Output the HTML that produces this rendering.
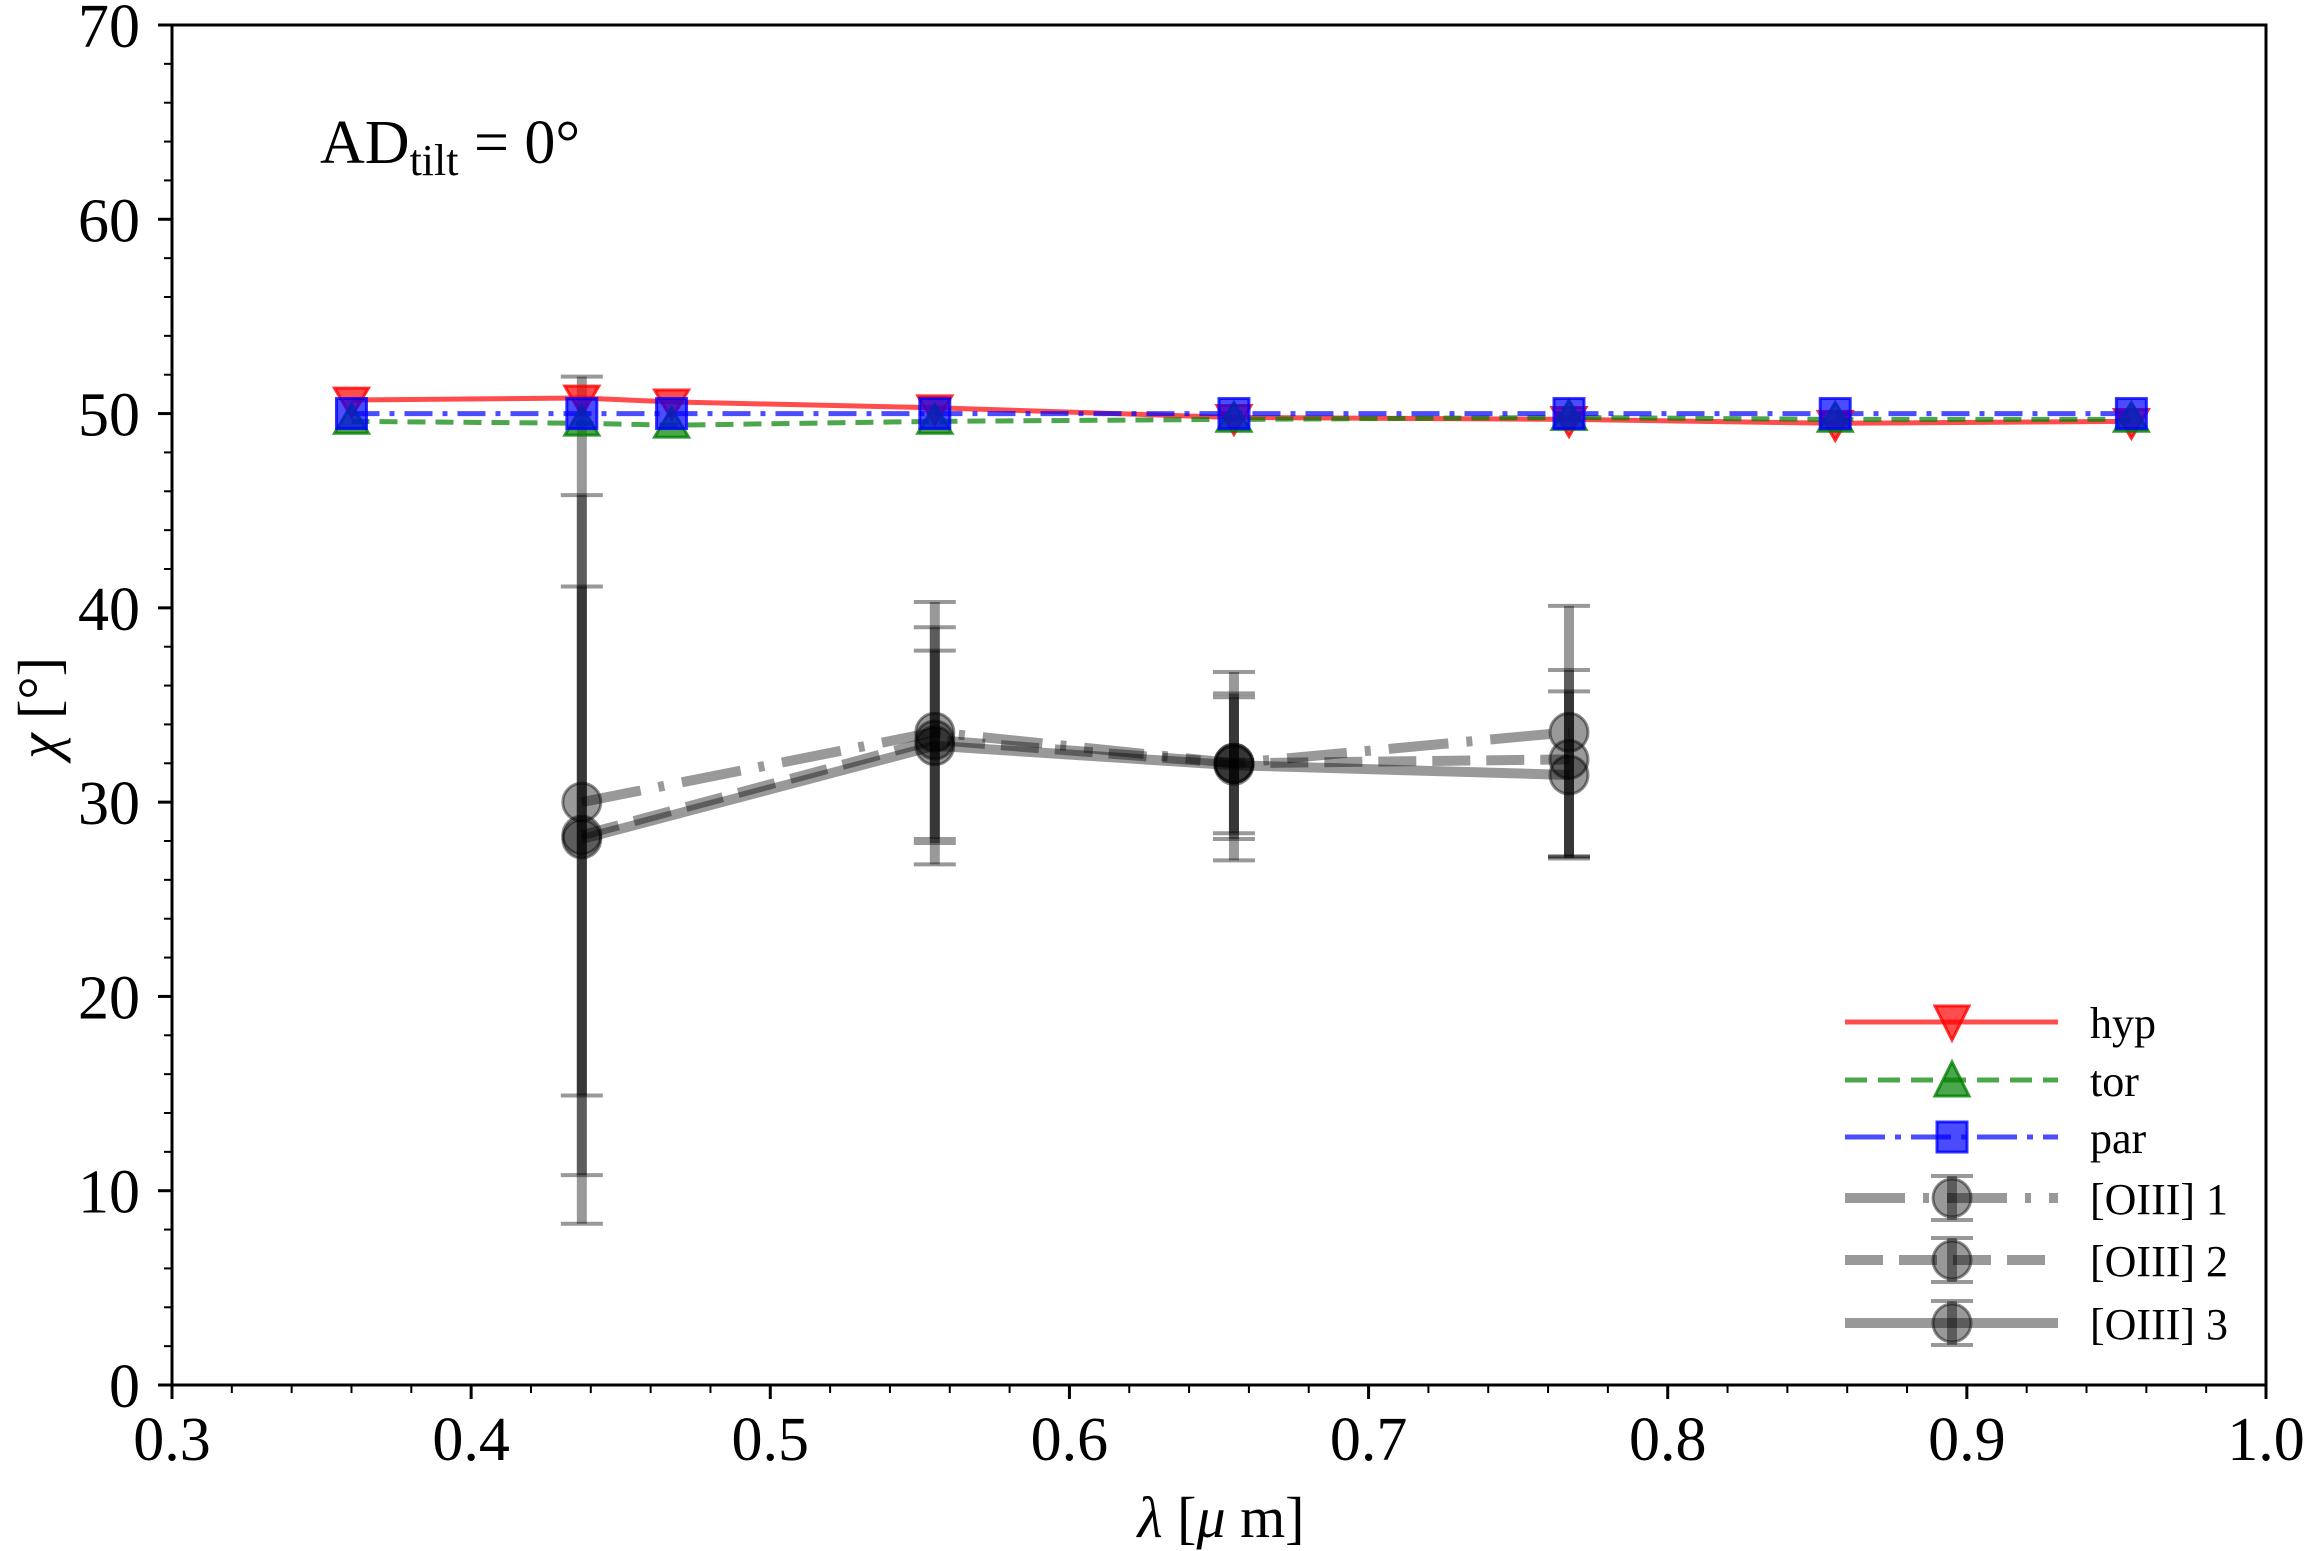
<!DOCTYPE html>
<html><head><meta charset="utf-8"><style>
html,body{margin:0;padding:0;background:#fff}
svg{display:block;font-family:"Liberation Serif","DejaVu Serif",serif}
</style></head><body>
<svg id="chart" width="2309" height="1551" viewBox="0 0 2309 1551" xmlns="http://www.w3.org/2000/svg">
<rect x="0" y="0" width="2309" height="1551" fill="#fff"/>
<g id="marks"></g>
<g id="axes"></g>
<text x="320" y="163" font-size="62">AD<tspan font-size="44" dy="12">tilt</tspan><tspan dy="-12"> = 0°</tspan></text>
<text x="1221" y="1537" font-size="58" text-anchor="middle"><tspan font-style="italic">λ</tspan> [<tspan font-style="italic">μ</tspan> m]</text>
<text transform="translate(58,708) rotate(-90)" font-size="58" text-anchor="middle"><tspan font-style="italic">χ</tspan> [°]</text>
<g id="legend"></g>
</svg>
<script>
const modelX = [0.36,0.437,0.467,0.555,0.655,0.767,0.856,0.955];
const hypY = [50.7,50.8,50.6,50.3,49.8,49.7,49.5,49.6];
const torY = [49.6,49.5,49.4,49.6,49.7,49.8,49.7,49.7];
const parY = [50.0,50.0,50.0,50.0,50.0,50.0,50.0,50.0];
const oiiiX = [0.437,0.555,0.655,0.767];
const oiii1Y = [30.0,33.6,32.0,33.6];
const oiii1Lo = [8.3,26.8,27.0,27.2];
const oiii1Hi = [51.9,40.3,36.7,40.1];
const oiii2Y = [28.3,33.2,32.0,32.2];
const oiii2Lo = [10.8,28.1,28.1,27.2];
const oiii2Hi = [45.8,37.8,35.4,36.8];
const oiii3Y = [28.1,32.9,31.9,31.4];
const oiii3Lo = [14.9,27.9,28.4,27.1];
const oiii3Hi = [41.1,39.0,35.6,35.7];
const xTicks = [0.3,0.4,0.5,0.6,0.7,0.8,0.9,1.0];
const xTickLabels = ["0.3","0.4","0.5","0.6","0.7","0.8","0.9","1.0"];
const yTicks = [0,10,20,30,40,50,60,70];
const yTickLabels = ["0","10","20","30","40","50","60","70"];

const L=172,R=2266,T=25,B=1385;
const sx=v=>L+(v-0.3)/0.7*(R-L);
const sy=v=>B-v/70*(B-T);
const NS="http://www.w3.org/2000/svg";
function mk(tag,attrs,parent){const e=document.createElementNS(NS,tag);for(const k in attrs)e.setAttribute(k,attrs[k]);parent.appendChild(e);return e;}
const marks=document.getElementById('marks'),axes=document.getElementById('axes'),leg=document.getElementById('legend');

function polyline(xs,ys,stroke,w,dash,name,parent){
  const p=xs.map((x,i)=>sx(x)+','+sy(ys[i])).join(' ');
  const e=mk('polyline',{points:p,fill:'none',stroke:stroke,'stroke-width':w,'stroke-dasharray':dash||'none'},parent);
  
  
}
const gray='rgba(0,0,0,0.4)';
function oiii(ys,lo,hi,dash,idx){
  polyline(oiiiX,ys,gray,10,dash,'oiii-'+idx+'-line',marks);
  oiiiX.forEach((x,i)=>{
    const cx=sx(x);
    const e=mk('line',{x1:cx,x2:cx,y1:sy(lo[i]),y2:sy(hi[i]),stroke:gray,'stroke-width':10},marks);
    
    
    [lo[i],hi[i]].forEach(v=>{
      const c=mk('line',{x1:cx-21,x2:cx+21,y1:sy(v),y2:sy(v),stroke:gray,'stroke-width':4},marks);
      
      
    });
    const m=mk('circle',{cx:cx,cy:sy(ys[i]),r:19,fill:'rgba(0,0,0,0.4)',stroke:'rgba(0,0,0,0.45)','stroke-width':3},marks);
    
    
  });
}
oiii(oiii1Y,oiii1Lo,oiii1Hi,'60,18,6,18',1);
oiii(oiii2Y,oiii2Lo,oiii2Hi,'38,16',2);
oiii(oiii3Y,oiii3Lo,oiii3Hi,'',3);

function tri(cx,cy,down,fill,stroke){
  const s=17;
  const pts=down?`${cx-s},${cy-s*0.7} ${cx+s},${cy-s*0.7} ${cx},${cy+s*1.0}`:`${cx-s},${cy+s*0.7} ${cx+s},${cy+s*0.7} ${cx},${cy-s*1.0}`;
  return mk('polygon',{points:pts,fill:fill,stroke:stroke,'stroke-width':3},marks);
}
polyline(modelX,hypY,'rgba(255,0,0,0.7)',5,'','hyp-line',marks);
polyline(modelX,torY,'rgba(0,128,0,0.7)',5,'18,10','tor-line',marks);
polyline(modelX,parY,'rgba(0,0,255,0.7)',5,'28,10,5,10','par-line',marks);
modelX.forEach((x,i)=>{
  const a=tri(sx(x),sy(hypY[i]),true,'rgba(255,0,0,0.7)','rgba(255,0,0,0.8)');
  
  
  const b=tri(sx(x),sy(torY[i]),false,'rgba(0,128,0,0.7)','rgba(0,128,0,0.8)');
  
  
  const c=mk('rect',{x:sx(x)-15,y:sy(parY[i])-15,width:30,height:30,fill:'rgba(0,0,255,0.7)',stroke:'rgba(0,0,255,0.8)','stroke-width':3},marks);
  
  
});

const fr=mk('rect',{x:L,y:T,width:R-L,height:B-T,fill:'none',stroke:'#000','stroke-width':3},axes);


xTicks.forEach((v,i)=>{
  const t=mk('line',{x1:sx(v),x2:sx(v),y1:B,y2:B+14,stroke:'#000','stroke-width':3},axes);
  
  
  const l=mk('text',{x:sx(v),y:B+75,'font-size':62,'text-anchor':'middle'},axes);
  l.textContent=xTickLabels[i];
  
  
  if(i<xTicks.length-1)for(let k=1;k<5;k++){
    const m=mk('line',{x1:sx(v+k*0.02),x2:sx(v+k*0.02),y1:B,y2:B+8,stroke:'#000','stroke-width':2},axes);
    
    
  }
});
yTicks.forEach((v,i)=>{
  const t=mk('line',{x1:L-14,x2:L,y1:sy(v),y2:sy(v),stroke:'#000','stroke-width':3},axes);
  
  
  const l=mk('text',{x:140,y:sy(v)+22,'font-size':62,'text-anchor':'end'},axes);
  l.textContent=yTickLabels[i];
  
  
  if(i<yTicks.length-1)for(let k=1;k<5;k++){
    const m=mk('line',{x1:L-8,x2:L,y1:sy(v+k*2),y2:sy(v+k*2),stroke:'#000','stroke-width':2},axes);
    
    
  }
});

const lx1=1845,lx2=2058,mx=1952,tx=2090;
const legRows=[
 {y:1022,name:'hyp',stroke:'rgba(255,0,0,0.7)',w:5,dash:''},
 {y:1080,name:'tor',stroke:'rgba(0,128,0,0.7)',w:5,dash:'22,11'},
 {y:1137,name:'par',stroke:'rgba(0,0,255,0.7)',w:5,dash:'40,10,6,10'},
 {y:1198,name:'[OIII] 1',stroke:gray,w:10,dash:'60,18,6,18'},
 {y:1260,name:'[OIII] 2',stroke:gray,w:10,dash:'38,16'},
 {y:1323,name:'[OIII] 3',stroke:gray,w:10,dash:''}
];
legRows.forEach((r,i)=>{
  const ln=mk('line',{x1:lx1,x2:lx2,y1:r.y,y2:r.y,stroke:r.stroke,'stroke-width':r.w,'stroke-dasharray':r.dash||'none'},leg);
  
  
  let m;
  if(i==0){m=mk('polygon',{points:`${mx-17},${r.y-16} ${mx+17},${r.y-16} ${mx},${r.y+18}`,fill:'rgba(255,0,0,0.7)',stroke:'rgba(255,0,0,0.8)','stroke-width':3},leg);}
  else if(i==1){m=mk('polygon',{points:`${mx-17},${r.y+16} ${mx+17},${r.y+16} ${mx},${r.y-18}`,fill:'rgba(0,128,0,0.7)',stroke:'rgba(0,128,0,0.8)','stroke-width':3},leg);}
  else if(i==2){m=mk('rect',{x:mx-15,y:r.y-15,width:30,height:30,fill:'rgba(0,0,255,0.7)',stroke:'rgba(0,0,255,0.8)','stroke-width':3},leg);}
  else{
    const eb=mk('line',{x1:mx,x2:mx,y1:r.y-22,y2:r.y+22,stroke:gray,'stroke-width':10},leg);
    
    
    [r.y-22,r.y+22].forEach(yy=>{const c=mk('line',{x1:mx-21,x2:mx+21,y1:yy,y2:yy,stroke:gray,'stroke-width':4},leg);
      
      });
    m=mk('circle',{cx:mx,cy:r.y,r:19,fill:'rgba(0,0,0,0.4)',stroke:'rgba(0,0,0,0.45)','stroke-width':3},leg);
  }
  
  
  const t=mk('text',{x:tx,y:r.y+16,'font-size':44},leg);
  t.textContent=r.name;
  
  
});
</script>
</body></html>
